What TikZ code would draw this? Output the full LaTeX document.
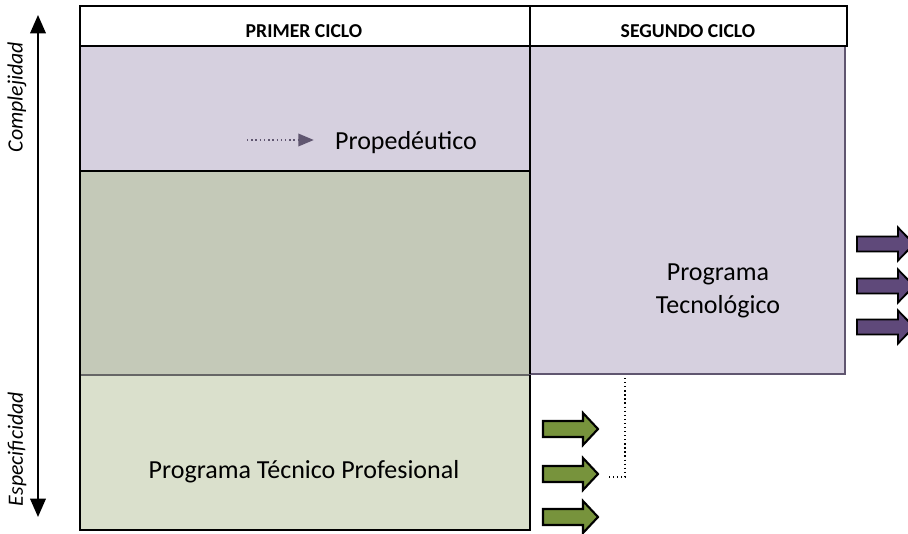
\documentclass[tikz,border=0pt]{standalone}
\usepackage{fontspec}
\setmainfont{Carlito}
\usepackage{tikz}
\usetikzlibrary{arrows.meta,positioning}
\definecolor{lila}{RGB}{214,208,223}
\definecolor{grisverde}{RGB}{196,201,184}
\definecolor{verdeclaro}{RGB}{218,224,204}
\definecolor{verdeflecha}{RGB}{119,147,60}
\definecolor{moradoflecha}{RGB}{95,73,122}
\definecolor{bordelila}{RGB}{96,86,112}

\begin{document}
\begin{tikzpicture}[x=0.025cm,y=-0.025cm,
  caja/.style={draw=black,line width=1.4pt},
  texto/.style={font=\fontsize{18.5}{23}\selectfont,inner sep=0pt},
  titulo/.style={font=\bfseries\fontsize{14}{16}\selectfont,inner sep=0pt},
  eje/.style={font=\itshape\fontsize{15.5}{18}\selectfont,rotate=90,inner sep=0pt},
  flechaverde/.style={fill=verdeflecha,draw=black,line width=1.5pt},
  flechamorada/.style={fill=moradoflecha,draw=black,line width=1.3pt}]
\clip (0,0) rectangle (908,533);

% primer ciclo
\fill[lila] (80,46) rectangle (530,171);
\fill[grisverde] (80,171) rectangle (530,375);
\fill[verdeclaro] (80,375) rectangle (530,530);
\draw[line width=1pt,black!60] (80,375) -- (530,375);
\draw[line width=1.4pt] (80,171) -- (530,171);
\draw[caja] (80,46) rectangle (530,530);

% segundo ciclo
\draw[fill=lila,draw=bordelila,line width=1pt] (530,46) rectangle (845,374);
\draw[caja] (530,46) -- (530,374);

% cabecera
\draw[caja,fill=white] (80,6) rectangle (847,46);
\draw[caja] (530,6) -- (530,46);
\node[titulo] (primer) at (304,31) {PRIMER CICLO};
\node[titulo] (segundo) at (688,31) {SEGUNDO CICLO};

% textos
\node[texto] (prope) at (406,143) {Propedéutico};
\node[texto,align=center] (tecno) at (718,291) {Programa\\Tecnológico};
\node[texto] (tecprof) at (304,472) {Programa Técnico Profesional};

\coordinate (pa) at (247,140);
\draw[dotted,line width=1pt,bordelila,-{Triangle[length=11pt,width=9pt]},shorten >=15pt] (pa) -- (pa -| prope.west);

% eje vertical
\coordinate (arriba) at (38,15);
\coordinate (abajo) at (38,517);
\draw[line width=1.4pt,{Triangle[length=13pt,width=11pt]}-{Triangle[length=13pt,width=11pt]}] (arriba) -- (abajo);
\node[eje] (compl) at (17,97) {Complejidad};
\node[eje] (espec) at (17,449) {Especificidad};

% flechas
\foreach \y in {429,474,517}
  \draw[flechaverde] (543,\y) ++(0,-8) -- ++(40,0) -- ++(0,-8) -- ++(15,16) -- ++(-15,16) -- ++(0,-8) -- ++(-40,0) -- cycle;
\foreach \y in {244,286,327}
  \draw[flechamorada] (857,\y) ++(0,-7.5) -- ++(41,0) -- ++(0,-9) -- ++(16,16.5) -- ++(-16,16.5) -- ++(0,-9) -- ++(-41,0) -- cycle;

\coordinate (d1) at (625,378);
\coordinate (d2) at (606,477);
\draw[dotted,line width=0.9pt] (d1) |- (d2);
\end{tikzpicture}
\end{document}
